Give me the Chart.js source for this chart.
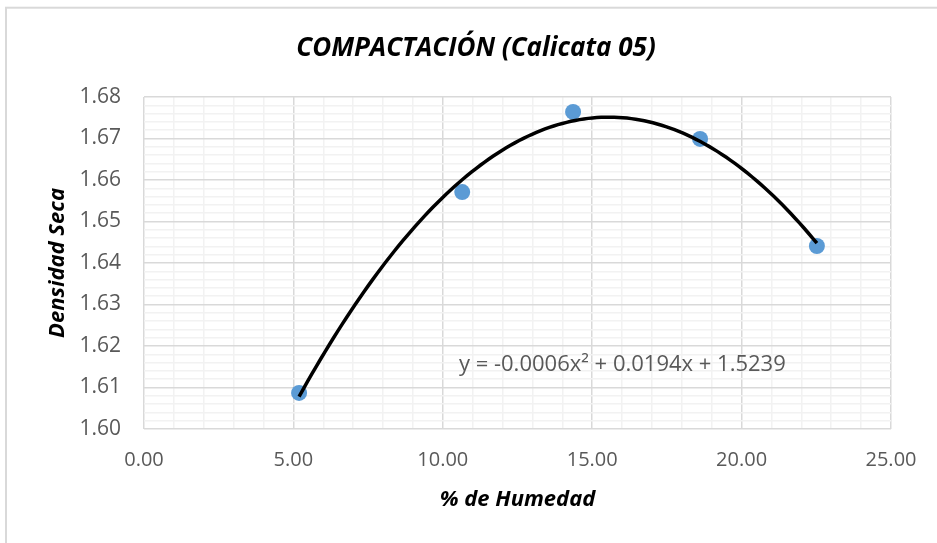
<!DOCTYPE html>
<html lang="es">
<head>
  <meta charset="UTF-8">
  <title>Compactación (Calicata 05)</title>
  <script src="https://cdn.jsdelivr.net/npm/chart.js"></script>
  <style>
    html, body {
      margin: 0;
      padding: 0;
      background: #fff;
    }
    #wrap {
      width: 937px;
      height: 543px;
    }
  </style>
</head>
<body>
<div id="wrap"><canvas id="chart" width="937" height="543"></canvas></div>

<script>
  // ensayo de compactación, calicata 05
  const humedad = [5.19, 10.65, 14.36, 18.61, 22.52];
  const densidad = [1.6087, 1.6571, 1.6764, 1.6699, 1.6441];

  // ejes
  const xLimits = [0, 25];
  const xMajor = 5;
  const xMinor = 1;
  const yLimits = [1.60, 1.68];
  const yMajor = 0.01;
  const yMinor = 0.002;

  const titulo = 'COMPACTACIÓN (Calicata 05)';
  const tituloX = '% de Humedad';
  const tituloY = 'Densidad Seca';
  const ecuacion = 'y = -0.0006x² + 0.0194x + 1.5239';
  const ecuacionPos = [10.54, 1.6154];

  // polinomio de grado 2 por mínimos cuadrados
  function ajustePoly2(xs, ys) {
    let s = [0, 0, 0, 0, 0], t = [0, 0, 0];
    xs.forEach((x, i) => {
      for (let k = 0; k <= 4; k++) s[k] += Math.pow(x, k);
      for (let k = 0; k <= 2; k++) t[k] += Math.pow(x, k) * ys[i];
    });
    const m = [
      [s[0], s[1], s[2], t[0]],
      [s[1], s[2], s[3], t[1]],
      [s[2], s[3], s[4], t[2]]
    ];
    for (let i = 0; i < 3; i++) {
      for (let j = i + 1; j < 3; j++) {
        const f = m[j][i] / m[i][i];
        for (let k = i; k < 4; k++) m[j][k] -= f * m[i][k];
      }
    }
    const c = [0, 0, 0];
    for (let i = 2; i >= 0; i--) {
      let v = m[i][3];
      for (let k = i + 1; k < 3; k++) v -= m[i][k] * c[k];
      c[i] = v / m[i][i];
    }
    return c; // c0 + c1 x + c2 x^2
  }

  const coef = ajustePoly2(humedad, densidad);
  const xIni = Math.min(...humedad), xFin = Math.max(...humedad);
  const tendencia = [];
  for (let i = 0; i <= 120; i++) {
    const x = xIni + (xFin - xIni) * i / 120;
    tendencia.push({ x: x, y: coef[0] + coef[1] * x + coef[2] * x * x });
  }

  const isMultiple = (v, step) => Math.abs(v / step - Math.round(v / step)) < 1e-6;

  // marco exterior, título y texto de la ecuación
  const extras = {
    id: 'extras',
    beforeDraw(chart) {
      const ctx = chart.ctx;
      ctx.save();
      ctx.fillStyle = '#fff';
      ctx.fillRect(0, 0, chart.width, chart.height);
      ctx.strokeStyle = '#d9d9d9';
      ctx.lineWidth = 2;
      ctx.strokeRect(6, 7.7, chart.width + 20, chart.height + 20);

      ctx.font = 'italic bold 26px "Open Sans"';
      ctx.fillStyle = '#000';
      ctx.textAlign = 'center';
      ctx.textBaseline = 'middle';
      ctx.fillText(titulo, 476, 49);
      ctx.restore();
    },
    afterDatasetsDraw(chart) {
      const ctx = chart.ctx;
      const x = chart.scales.x.getPixelForValue(ecuacionPos[0]);
      const y = chart.scales.y.getPixelForValue(ecuacionPos[1]);
      ctx.save();
      ctx.font = '22px "Open Sans"';
      ctx.fillStyle = '#595959';
      ctx.textAlign = 'left';
      ctx.textBaseline = 'middle';
      ctx.fillText(ecuacion, x, y);
      ctx.restore();
    }
  };

  const ctx = document.getElementById('chart').getContext('2d');
  new Chart(ctx, {
    type: 'scatter',
    data: {
      datasets: [
        {
          label: 'Polinómica',
          data: tendencia,
          showLine: true,
          borderColor: '#000',
          borderWidth: 3.5,
          pointRadius: 0,
          tension: 0,
          order: 0
        },
        {
          label: 'Densidad',
          data: humedad.map((x, i) => ({ x: x, y: densidad[i] })),
          backgroundColor: '#5b9bd5',
          borderColor: '#5b9bd5',
          pointRadius: 8,
          pointBorderWidth: 0,
          order: 1
        }
      ]
    },
    options: {
      responsive: false,
      devicePixelRatio: 1,
      animation: false,
      layout: { padding: { top: 97, left: 0, right: 46, bottom: 0 } },
      plugins: {
        legend: { display: false },
        tooltip: { enabled: false },
        title: { display: false }
      },
      scales: {
        x: {
          type: 'linear',
          min: xLimits[0],
          max: xLimits[1],
          afterFit: s => { s.height = 114; },
          ticks: {
            stepSize: xMinor,
            autoSkip: false,
            maxRotation: 0,
            padding: 19,
            color: '#595959',
            font: { family: 'Open Sans', size: 20 },
            callback: v => isMultiple(v, xMajor) ? v.toFixed(2) : ''
          },
          grid: {
            drawTicks: false,
            lineWidth: 1.5,
            color: c => isMultiple(c.tick.value, xMajor) ? '#d9d9d9' : '#f2f2f2'
          },
          border: { display: false },
          title: {
            display: true,
            text: tituloX,
            color: '#000',
            font: { family: 'Open Sans', size: 22, weight: 'bold', style: 'italic' },
            padding: { top: 0, bottom: 30 }
          }
        },
        y: {
          type: 'linear',
          min: yLimits[0],
          max: yLimits[1],
          afterFit: s => { s.width = 144; },
          ticks: {
            stepSize: yMinor,
            autoSkip: false,
            padding: 23,
            color: '#595959',
            font: { family: 'Open Sans', size: 21 },
            callback: v => isMultiple(v, yMajor) ? v.toFixed(2) : ''
          },
          grid: {
            drawTicks: false,
            lineWidth: 1.5,
            color: c => isMultiple(c.tick.value, yMajor) ? '#d9d9d9' : '#f2f2f2'
          },
          border: { display: false },
          title: {
            display: true,
            text: tituloY,
            color: '#000',
            font: { family: 'Open Sans', size: 22, weight: 'bold', style: 'italic' },
            padding: { top: 45, bottom: 0 }
          }
        }
      }
    },
    plugins: [extras]
  });
</script>
</body>
</html>
